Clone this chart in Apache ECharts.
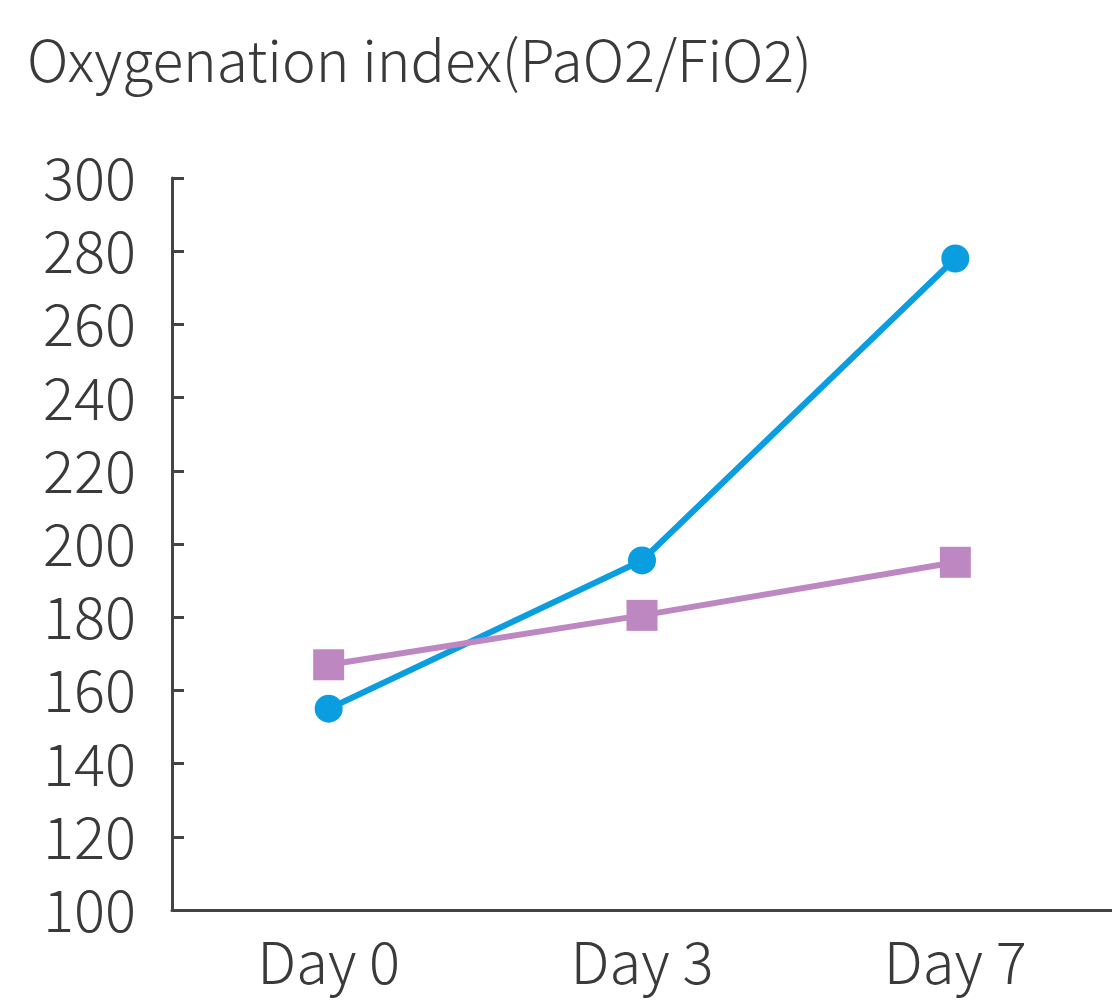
<!DOCTYPE html>
<html>
<head>
<meta charset="utf-8">
<script src="https://cdn.jsdelivr.net/npm/echarts@6/dist/echarts.min.js"></script>
<style>html,body{margin:0;padding:0;background:#fff;}#c{width:1112px;height:1004px;}</style>
</head>
<body>
<div id="c"></div>
<script>
var categories = ['Day 0', 'Day 3', 'Day 7'];
var seriesBlue = [155, 195.5, 278];
var seriesPurple = [167, 180.5, 195];
var yTicks = [100, 120, 140, 160, 180, 200, 220, 240, 260, 280, 300];
var titleText = 'Oxygenation index(PaO2/FiO2)';

var font = '"Noto Sans CJK SC", "Noto Sans", sans-serif';
var textColor = '#3a3a3a';
var chart = echarts.init(document.getElementById('c'));
chart.setOption({
  animation: false,
  title: {
    text: titleText,
    left: 22, top: 27,
    textStyle: { fontFamily: font, fontSize: 57, fontWeight: 300, color: textColor }
  },
  grid: { left: 172, right: -5, top: 178, bottom: 94, containLabel: false },
  xAxis: {
    type: 'category',
    data: categories,
    boundaryGap: true,
    axisLine: { lineStyle: { color: '#444', width: 3 } },
    axisTick: { inside: true, length: 12, lineStyle: { color: '#444', width: 3 } },
    axisLabel: { fontFamily: font, fontSize: 58, fontWeight: 300, color: textColor, margin: 23 },
    splitLine: { show: false }
  },
  yAxis: {
    type: 'value',
    min: yTicks[0], max: yTicks[yTicks.length - 1], interval: 20,
    axisLine: { show: true, lineStyle: { color: '#444', width: 3 } },
    axisTick: { show: true, inside: true, length: 12, lineStyle: { color: '#444', width: 3 } },
    axisLabel: { fontFamily: font, fontSize: 58, fontWeight: 300, color: textColor, margin: 36 },
    splitLine: { show: false }
  },
  series: [
    {
      type: 'line', data: seriesBlue,
      symbol: 'circle', symbolSize: 28,
      lineStyle: { color: '#0a9de0', width: 6 },
      itemStyle: { color: '#0a9de0' }
    },
    {
      type: 'line', data: seriesPurple,
      symbol: 'rect', symbolSize: 31,
      lineStyle: { color: '#bd87c2', width: 6 },
      itemStyle: { color: '#bd87c2' }
    }
  ]
});
</script>
</body>
</html>
